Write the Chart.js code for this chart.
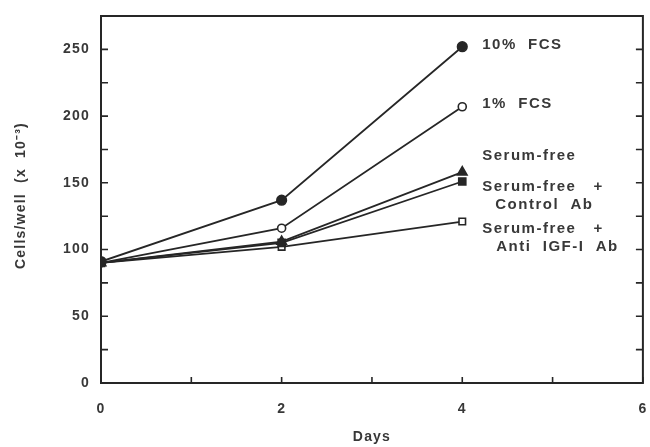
<!DOCTYPE html>
<html>
<head>
<meta charset="utf-8">
<script src="https://cdn.jsdelivr.net/npm/chart.js@4/dist/chart.umd.min.js"></script>
<style>
  html, body { margin: 0; padding: 0; background: #ffffff; }
  #wrap { width: 650px; height: 447px; position: relative; }
</style>
</head>
<body>
<div id="wrap"><canvas id="c" width="650" height="447"></canvas></div>
<script>
// ---- data ----
const days = [0, 2, 4];
const fcs10 = [91, 137, 252];
const fcs1 = [90, 116, 207];
const serumFree = [90, 106, 158];
const serumFreeControlAb = [90, 105, 151];
const serumFreeAntiIGF = [90, 102, 121];

const seriesNames = ['10% FCS', '1% FCS', 'Serum-free', 'Serum-free + Control Ab', 'Serum-free + Anti IGF-I Ab'];
const seriesLabelLines = [
  ['10%  FCS'],
  ['1%  FCS'],
  ['Serum-free'],
  ['Serum-free   +', 'Control  Ab'],
  ['Serum-free   +', 'Anti  IGF-I  Ab']
];
const xTickValues = [0, 1, 2, 3, 4, 5, 6];
const xTickLabels = ['0', '', '2', '', '4', '', '6'];
const yTickLabels = ['0', '50', '100', '150', '200', '250'];
const xTitle = 'Days';
const yTitle = 'Cells/well  (x  10\u207B\u00B3)';

// ---- styling ----
const INK = '#262626';
const TXT = '#383838';
const FONT = '"Liberation Sans", Arial, Helvetica, sans-serif';
const SPACING = '1.2px';
const LABEL_SPACING = '1.5px';

function pts(vals) { return days.map((d, i) => ({ x: d, y: vals[i] })); }

const markerStyles = [
  { pointStyle: 'circle', radius: 4.8, bg: INK },
  { pointStyle: 'circle', radius: 4, bg: '#ffffff' },
  { pointStyle: 'triangle', radius: 5.5, bg: INK },
  { pointStyle: 'rect', radius: 5, bg: INK },
  { pointStyle: 'rect', radius: 4.6, bg: '#ffffff' }
];
const allSeries = [fcs10, fcs1, serumFree, serumFreeControlAb, serumFreeAntiIGF];

const datasets = allSeries.map((vals, i) => ({
  label: seriesNames[i],
  data: pts(vals),
  borderColor: INK,
  borderWidth: 1.8,
  pointStyle: markerStyles[i].pointStyle,
  pointRadius: markerStyles[i].radius,
  pointBackgroundColor: markerStyles[i].bg,
  pointBorderColor: INK,
  pointBorderWidth: 1.6,
  showLine: true,
  fill: false,
  tension: 0
}));

// label placement offsets (pixels) relative to each series' last point
const labelOffsets = [
  { dx: 20, dy: -2, lineDx: [0] },
  { dx: 20, dy: -3, lineDx: [0] },
  { dx: 20, dy: -16, lineDx: [0] },
  { dx: 20, dy: 5, lineDx: [0, 13] },
  { dx: 20, dy: 7, lineDx: [0, 14] }
];

const spacingPlugin = {
  id: 'spacing',
  beforeUpdate(chart) { try { chart.ctx.letterSpacing = SPACING; } catch (e) {} },
  beforeDraw(chart) { try { chart.ctx.letterSpacing = SPACING; } catch (e) {} }
};

const framePlugin = {
  id: 'frame',
  afterDraw(chart) {
    const ctx = chart.ctx;
    const a = chart.chartArea;
    const xs = chart.scales.x, ys = chart.scales.y;
    ctx.save();
    // frame
    ctx.strokeStyle = INK;
    ctx.lineWidth = 2;
    ctx.strokeRect(a.left, a.top, a.right - a.left, a.bottom - a.top);
    // inward ticks on x axis
    ctx.lineWidth = 1.6;
    xTickValues.forEach(v => {
      const px = xs.getPixelForValue(v);
      ctx.beginPath();
      ctx.moveTo(px, a.bottom);
      ctx.lineTo(px, a.bottom - 6);
      ctx.stroke();
    });
    // inward ticks on left and right
    for (let v = 0; v <= 250; v += 25) {
      const py = ys.getPixelForValue(v);
      ctx.beginPath();
      ctx.moveTo(a.left, py); ctx.lineTo(a.left + 7, py);
      ctx.moveTo(a.right, py); ctx.lineTo(a.right - 7, py);
      ctx.stroke();
    }
    // series labels
    ctx.fillStyle = TXT;
    ctx.font = 'bold 15px ' + FONT;
    ctx.textBaseline = 'middle';
    ctx.textAlign = 'left';
    try { ctx.letterSpacing = LABEL_SPACING; } catch (e) {}
    allSeries.forEach((vals, i) => {
      const last = vals.length - 1;
      const px = xs.getPixelForValue(days[last]);
      const py = ys.getPixelForValue(vals[last]);
      const off = labelOffsets[i];
      seriesLabelLines[i].forEach((line, k) => {
        ctx.fillText(line, px + off.dx + off.lineDx[k], py + off.dy + k * 18.5);
      });
    });
    // axis titles
    ctx.font = 'bold 14px ' + FONT;
    try { ctx.letterSpacing = SPACING; } catch (e) {}
    ctx.textAlign = 'center';
    ctx.fillText(xTitle, (a.left + a.right) / 2, 437);
    ctx.save();
    ctx.translate(21, (a.top + a.bottom) / 2 - 4);
    ctx.rotate(-Math.PI / 2);
    ctx.fillText(yTitle, 0, 0);
    ctx.restore();
    ctx.restore();
  }
};

new Chart(document.getElementById('c'), {
  type: 'scatter',
  data: { datasets },
  options: {
    responsive: false,
    animation: false,
    events: [],
    layout: { padding: { top: 16, right: 5, left: 0, bottom: 0 } },
    plugins: { legend: { display: false }, tooltip: { enabled: false } },
    scales: {
      x: {
        type: 'linear',
        min: 0, max: 6,
        afterBuildTicks(s) { s.ticks = xTickValues.map(v => ({ value: v })); },
        afterFit(s) { s.height = 64; s.paddingLeft = 0; s.paddingRight = 0; },
        grid: { display: false },
        border: { display: false },
        ticks: {
          color: TXT,
          font: { family: FONT, size: 14, weight: 'bold' },
          padding: 10,
          maxRotation: 0,
          autoSkip: false,
          callback(v) { const i = xTickValues.indexOf(v); return i >= 0 ? xTickLabels[i] : ''; }
        }
      },
      y: {
        type: 'linear',
        min: 0, max: 275,
        afterBuildTicks(s) { s.ticks = yTickLabels.map(t => ({ value: Number(t) })); },
        afterFit(s) { s.width = 101; s.paddingTop = 0; s.paddingBottom = 0; },
        grid: { display: false },
        border: { display: false },
        ticks: {
          color: TXT,
          font: { family: FONT, size: 14, weight: 'bold' },
          padding: 3,
          callback(v) { const t = String(v); return yTickLabels.includes(t) ? t : ''; }
        }
      }
    }
  },
  plugins: [spacingPlugin, framePlugin]
});
</script>
</body>
</html>
